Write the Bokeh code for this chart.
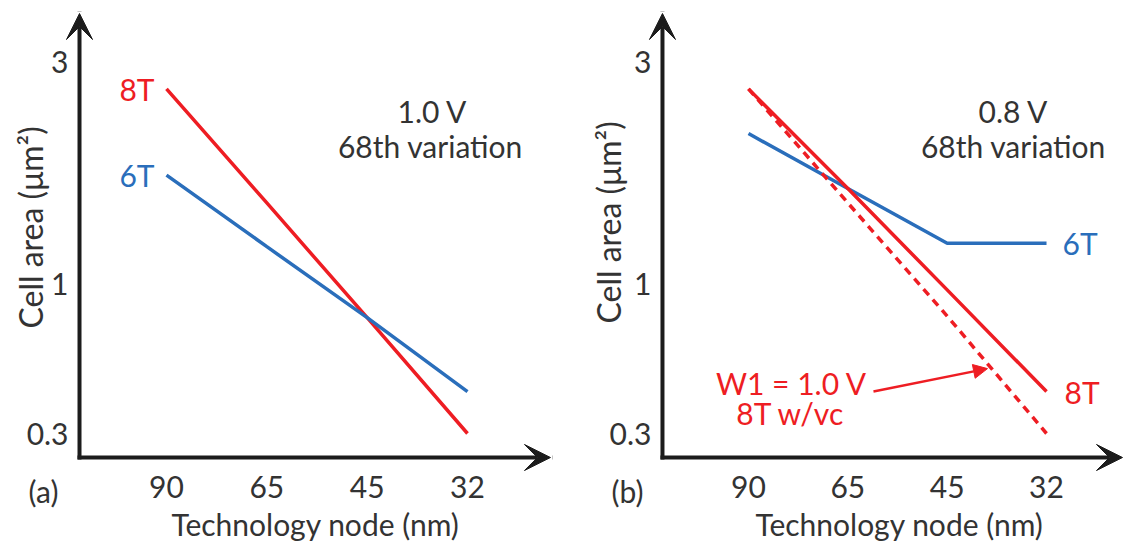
import numpy as np
from bokeh.plotting import figure
from bokeh.layouts import row
from bokeh.models import (Range1d, FixedTicker, CustomJSTickFormatter, Label,
                          Arrow, VeeHead, NormalHead)
from bokeh.embed import file_html
from bokeh.resources import INLINE

# ---------------- data ----------------
nodes = ["90", "65", "45", "32"]            # technology node (nm)
y_tick_values = [0.3, 1, 3]                 # cell area ticks (um^2)
y_tick_labels = ["0.3", "1", "3"]

# panel (a): 1.0 V
a_8t = [2.62, 1.49, 0.76, 0.30]
a_6t = [1.71, 1.20, 0.76, 0.42]
# panel (b): 0.8 V
b_6t = [2.10, 1.60, 1.22, 1.22]
b_8t = [2.62, 1.60, 0.95, 0.42]
b_8t_vc = [2.62, 1.49, 0.77, 0.30]         # 8T w/vc, W1 = 1.0 V

# ---------------- style ----------------
RED = "#ee1d23"
BLUE = "#2a6ebb"
INK = "#333333"
AXIS = "#1c1c1c"
FONT = "Lato"
FS = "30px"
H = 543

# schematic (non-uniform) cell-area axis: tick levels and their axis positions
TICK_POS = [0.0, 1.0, 2.48]


def ty(v):
    arr = np.atleast_1d(np.asarray(v, dtype=float))
    return [float(t) for t in np.interp(np.log10(arr), np.log10(y_tick_values), TICK_POS)]


Y_AX, Y_TIP = -0.16, 2.8          # x-axis level, y-arrow tip
YR = (-0.7333, 2.8867)            # full figure vertical extent
xs = list(range(len(nodes)))


def panel(width, xr, x_axis_at, x_tip):
    p = figure(width=width, height=H, x_range=Range1d(*xr), y_range=Range1d(*YR),
               output_backend="svg", toolbar_location=None,
               min_border_left=0, min_border_right=0, min_border_top=0, min_border_bottom=0)
    p.outline_line_color = None
    p.grid.visible = False
    p.xaxis.fixed_location = Y_AX
    p.yaxis.fixed_location = x_axis_at
    for ax in (p.xaxis[0], p.yaxis[0]):
        ax.axis_line_color = None
        ax.major_tick_line_color = None
        ax.minor_tick_line_color = None
        ax.major_tick_out = 0
        ax.major_tick_in = 0
        ax.minor_tick_out = 0
        ax.major_label_text_font = FONT
        ax.major_label_text_font_size = FS
        ax.major_label_text_color = INK
    p.xaxis.ticker = FixedTicker(ticks=xs)
    p.xaxis.formatter = CustomJSTickFormatter(
        args=dict(labels=nodes, pos=xs),
        code="const i = pos.findIndex(q => Math.abs(q - tick) < 1e-6); return i >= 0 ? labels[i] : '';")
    p.yaxis.ticker = FixedTicker(ticks=TICK_POS)
    p.yaxis.formatter = CustomJSTickFormatter(
        args=dict(labels=y_tick_labels, pos=TICK_POS),
        code="const i = pos.findIndex(q => Math.abs(q - tick) < 1e-6); return i >= 0 ? labels[i] : '';")
    p.yaxis.major_label_standoff = 11
    p.xaxis.major_label_standoff = 18
    # axis lines with arrow heads
    p.add_layout(Arrow(end=VeeHead(size=26, fill_color=AXIS, line_color=AXIS, line_width=1),
                       x_start=x_axis_at, y_start=Y_AX, x_end=x_axis_at, y_end=Y_TIP,
                       line_color=AXIS, line_width=4, line_cap="square"))
    p.add_layout(Arrow(end=VeeHead(size=26, fill_color=AXIS, line_color=AXIS, line_width=1),
                       x_start=x_axis_at, y_start=Y_AX, x_end=x_tip, y_end=Y_AX,
                       line_color=AXIS, line_width=4, line_cap="square"))
    return p


def screen_label(p, text, sx, sy, color=INK, align="center", angle=0.0, size=FS):
    p.add_layout(Label(x=sx, y=sy, x_units="screen", y_units="screen", text=text,
                       text_font=FONT, text_font_size=size, text_color=color,
                       text_align=align, text_baseline="middle", angle=angle))


def data_label(p, text, x, y, dx, color, align):
    p.add_layout(Label(x=x, y=y, x_offset=dx, text=text, text_font=FONT, text_font_size=FS,
                       text_color=color, text_align=align, text_baseline="middle"))


# ---------------- panel (a) ----------------
pa = panel(568, (-1.6545, 4.0067), -0.867, 3.827)
pa.line(xs, ty(a_8t), line_color=RED, line_width=3.5)
pa.line(xs, ty(a_6t), line_color=BLUE, line_width=3.5)
data_label(pa, "8T", 0, ty(a_8t)[0], -12, RED, "right")
data_label(pa, "6T", 0, ty(a_6t)[0], -12, BLUE, "right")
screen_label(pa, "1.0 V", 432, 433)
screen_label(pa, "68th variation", 430, 398)
screen_label(pa, "Cell area (\u03bcm\u00b2)", 30, 316, angle=np.pi / 2, size="32px")
screen_label(pa, "(a)", 43, 53)
screen_label(pa, "Technology node (nm)", 315, 20)

# ---------------- panel (b) ----------------
pb = panel(556, (-1.812, 3.785), -0.866, 3.765)
pb.line(xs, ty(b_6t), line_color=BLUE, line_width=3.5)
pb.line(xs, ty(b_8t_vc), line_color=RED, line_width=3.5, line_dash="8 6")
pb.line(xs, ty(b_8t), line_color=RED, line_width=3.5)
data_label(pb, "6T", 3, ty(b_6t)[-1], 16, BLUE, "left")
data_label(pb, "8T", 3, ty(b_8t)[-1], 18, RED, "left")
screen_label(pb, "0.8 V", 445, 433)
screen_label(pb, "68th variation", 445, 398)
screen_label(pb, "Cell area (\u03bcm\u00b2)", 40, 321, angle=np.pi / 2, size="32px")
screen_label(pb, "(b)", 59, 53)
screen_label(pb, "Technology node (nm)", 331, 20)
screen_label(pb, "W1 = 1.0 V", 223, 161, color=RED)
screen_label(pb, "8T w/vc", 222, 131, color=RED)
pb.add_layout(Arrow(end=NormalHead(size=14, fill_color=RED, line_color=RED, line_width=1),
                    x_start=1.258, y_start=ty(0.42)[0], x_end=2.406, y_end=ty(0.505)[0],
                    line_color=RED, line_width=2.5))

layout = row(pa, pb)
open("out.html", "w").write(file_html(layout, INLINE))
